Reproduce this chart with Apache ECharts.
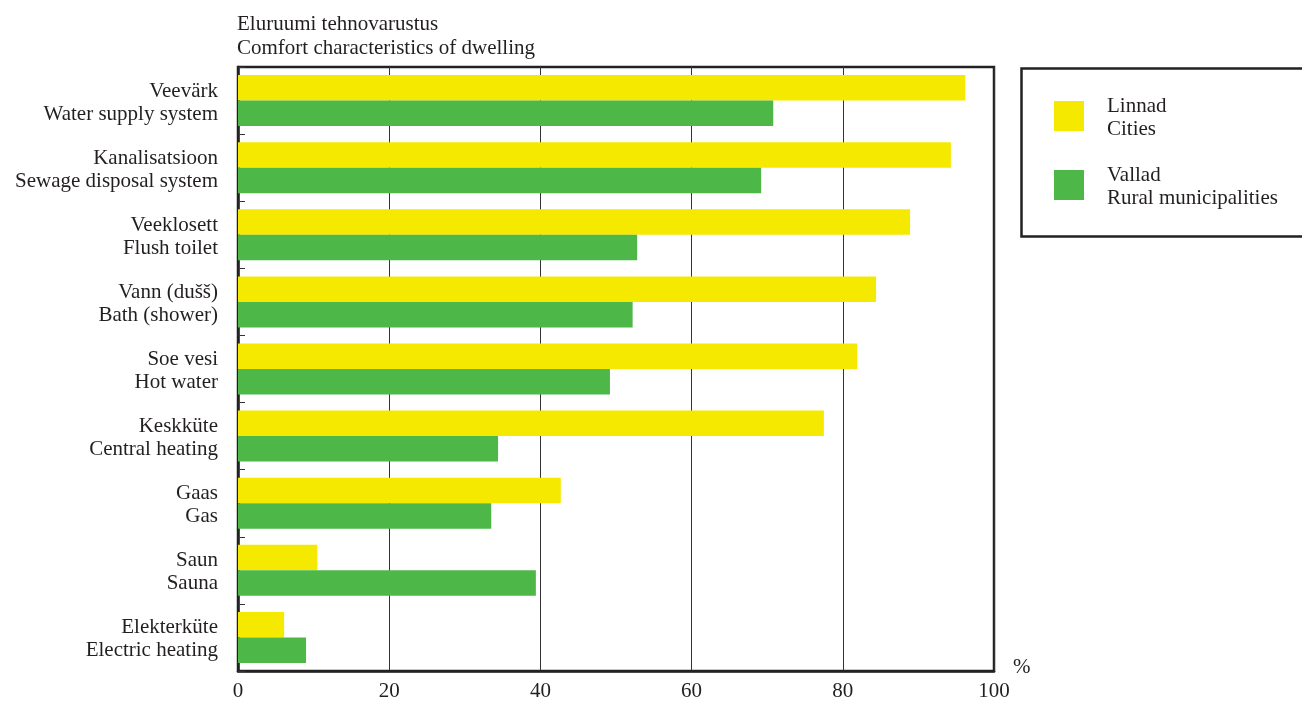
<!DOCTYPE html>
<html><head><meta charset="utf-8">
<script src="https://cdn.jsdelivr.net/npm/echarts@6/dist/echarts.min.js"></script>
<style>html,body{margin:0;padding:0;background:#fff}#c{width:1302px;height:702px}</style>
</head><body><div id="c"></div>
<script>
const categories = [
  "Veevärk\nWater supply system",
  "Kanalisatsioon\nSewage disposal system",
  "Veeklosett\nFlush toilet",
  "Vann (dušš)\nBath (shower)",
  "Soe vesi\nHot water",
  "Keskküte\nCentral heating",
  "Gaas\nGas",
  "Saun\nSauna",
  "Elekterküte\nElectric heating"
];
const seriesNames = ["Linnad\nCities", "Vallad\nRural municipalities"];
const cities = [96.2, 94.3, 88.9, 84.4, 81.9, 77.5, 42.7, 10.5, 6.1];
const rural = [70.8, 69.2, 52.8, 52.2, 49.2, 34.4, 33.5, 39.4, 9.0];
const titleLines = ["Eluruumi tehnovarustus", "Comfort characteristics of dwelling"];
const xTicks = [0, 20, 40, 60, 80, 100];
const unitLabel = "%";

const FONT = "Liberation Serif";
const FS = 21;
const TXT = "#231f20";
function richLines(s) {
  return '{s| }\n{a|' + s.split('\n').join('}\n{a|') + '}';
}
const chart = echarts.init(document.getElementById('c'), null, {renderer: 'canvas'});
chart.setOption({
  animation: false,
  backgroundColor: '#fff',
  textStyle: {fontFamily: FONT, color: TXT},
  title: {
    text: titleLines.join("\n"), left: 232, top: 7,
    textStyle: {fontFamily: FONT, fontWeight: 'normal', fontSize: FS, lineHeight: 24, color: TXT}
  },
  legend: {
    data: seriesNames, orient: 'vertical', left: 1049, top: 87,
    itemWidth: 30, itemHeight: 30, itemGap: 21, icon: 'rect',
    formatter: richLines,
    textStyle: {fontFamily: FONT, fontSize: FS, color: TXT, padding: [0,0,0,18],
      rich: {
        s: {fontSize: 2, lineHeight: 4},
        a: {fontFamily: FONT, fontSize: FS, lineHeight: 23, color: TXT}
      }}
  },
  grid: {
    left: 238, right: 308, top: 67, bottom: 29, show: true,
    borderColor: '#222', borderWidth: 2.5, backgroundColor: 'transparent'
  },
  xAxis: {
    type: 'value', min: xTicks[0], max: xTicks[xTicks.length-1], interval: 20,
    axisLine: {show: true, lineStyle: {color: '#222', width: 2.5}},
    axisTick: {show: false},
    axisLabel: {fontFamily: FONT, fontSize: FS, color: TXT, margin: 10},
    splitLine: {show: true, lineStyle: {color: '#333', width: 1}}
  },
  yAxis: {
    type: 'category', data: categories, inverse: true,
    axisLine: {show: true, lineStyle: {color: '#222', width: 2.5}},
    axisTick: {show: true, inside: true, length: 7, lineStyle: {color: '#333', width: 1}},
    axisLabel: {fontFamily: FONT, fontSize: FS, color: TXT, margin: 20, align: 'right',
      formatter: richLines,
      rich: {
        s: {fontSize: 2, lineHeight: 4, align: 'right'},
        a: {fontFamily: FONT, fontSize: FS, lineHeight: 23, color: TXT, align: 'right'}
      }}
  },
  series: [
    {name: seriesNames[0], type: 'bar', data: cities, barGap: '0%', barCategoryGap: '24%',
     itemStyle: {color: '#f6e900'}},
    {name: seriesNames[1], type: 'bar', data: rural, barGap: '0%', barCategoryGap: '24%',
     itemStyle: {color: '#4db848'}}
  ],
  graphic: [
    {type: 'rect', left: 1019, top: 66, shape: {width: 300, height: 168},
     style: {fill: 'none', stroke: '#222', lineWidth: 2.5}},
    {type: 'text', left: 1013, top: 657,
     style: {text: unitLabel, font: FS + 'px "Liberation Serif"', fill: TXT}}
  ]
});
</script></body></html>
